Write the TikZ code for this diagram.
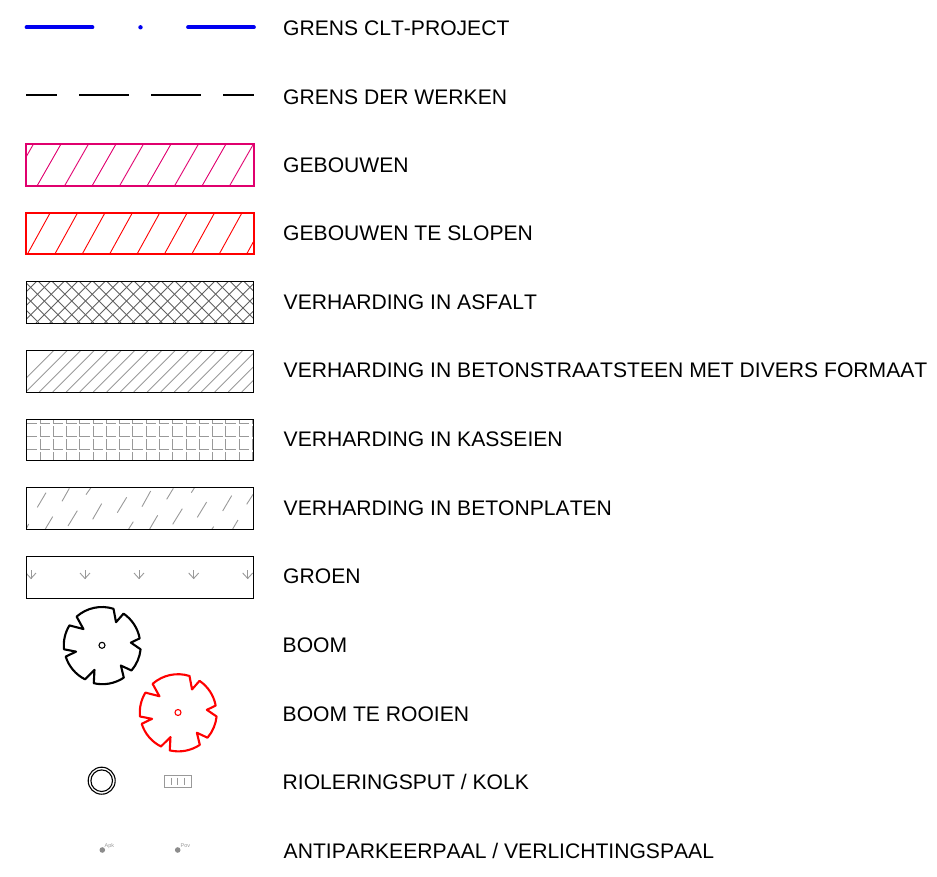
\documentclass[tikz,border=0pt]{standalone}
\usepackage{fontspec}
\setmainfont[Kerning=Off]{Liberation Sans}
\definecolor{pinkb}{HTML}{E0006E}
\definecolor{bluel}{HTML}{0000F0}
\tikzset{
  x=1pt,y=1pt,
  lbl/.style={anchor=base west,inner sep=0pt,font=\fontsize{21.1}{25}\selectfont,text=black},
  bluedash/.style={draw=bluel,line width=3.7pt,line cap=round},
  blackdash/.style={draw=black,line width=1.9pt},
  thickbox/.style={line width=2.3pt},
  thinbox/.style={draw=black,line width=0.9pt},
  hatchline/.style={line width=0.9pt},
  grayline/.style={draw=black!40,line width=0.9pt},
  darkline/.style={draw=black!62,line width=0.9pt},
  treeline/.style={line width=2.1pt,line join=round},
  tiny/.style={inner sep=0pt,anchor=west,font=\fontsize{5.5}{6}\selectfont,text=black!40}
}
\newcommand{\mytree}[3]{%
  \begin{scope}[shift={(#1,#2)}]
  \draw[treeline,#3] (131.5:38.3) arc[start angle=131.5,end angle=72.5,radius=38.3]
   -- (58.7:27) -- (55.8:38.3) arc[start angle=55.8,end angle=10.4,radius=38.3]
   -- (5.3:29) -- (-5.9:38.8) arc[start angle=-5.9,end angle=-40.5,radius=38.8]
   -- (-47:27.7) -- (-56:39) arc[start angle=-56,end angle=-103,radius=38.3]
   -- (-107:25.7) -- (-116.6:38) arc[start angle=-116.6,end angle=-162.7,radius=38]
   -- (-166.3:26.7) -- (-174:38.2) arc[start angle=-174,end angle=-211.6,radius=38]
   -- (138.8:24.7) -- cycle;
  \draw[line width=1.1pt,#3] (0,0) circle[radius=3];
  \end{scope}
}
\begin{document}
\begin{tikzpicture}
\useasboundingbox (0,0) rectangle (937,-877);
% line samples
\draw[bluedash] (26.5,-27.3) -- (92.5,-27.3);
\fill[bluel] (140.5,-27.3) circle[radius=2.2];
\draw[bluedash] (188,-27.3) -- (254,-27.3);
\draw[blackdash] (26,-95.3) -- (57,-95.3);
\draw[blackdash] (79,-95.3) -- (129,-95.3);
\draw[blackdash] (151,-95.3) -- (201,-95.3);
\draw[blackdash] (223,-95.3) -- (254,-95.3);
% gebouwen
\begin{scope}
\clip (26,-144.3) rectangle (253.7,-186);
\foreach \i in {0,...,9} \draw[pinkb,hatchline] ({9.5+27.5*\i},-186) -- ({33.5+27.5*\i},-144);
\end{scope}
\draw[pinkb,thickbox] (26,-144.3) rectangle (253.7,-186);
% te slopen
\begin{scope}
\clip (26,-213.3) rectangle (253.7,-254.3);
\foreach \i in {0,...,9} \draw[red,hatchline] ({27.3+27.4*\i},-254.3) -- ({49.9+27.4*\i},-213.3);
\end{scope}
\draw[red,thickbox] (26,-213.3) rectangle (253.7,-254.3);
% asfalt
\begin{scope}
\clip (26.5,-281.5) rectangle (253.5,-323);
\foreach \i in {0,...,22} {
  \draw[darkline] ({-5+13.7*\i},-323) -- ({36.5+13.7*\i},-281.5);
  \draw[darkline] ({-30+13.7*\i},-281.5) -- ({11.5+13.7*\i},-323);
}
\end{scope}
\draw[thinbox] (26.5,-281.5) rectangle (253.5,-323);
% beton
\begin{scope}
\clip (26.5,-350) rectangle (253.5,-392);
\foreach \i in {-2,...,16} \draw[grayline] ({39.3+13.5*\i},-392) -- ({81.3+13.5*\i},-350);
\end{scope}
\draw[thinbox] (26.5,-350) rectangle (253.5,-392);
% kasseien
\begin{scope}
\clip (26.5,-419) rectangle (253.5,-460);
\foreach \i in {-1,...,16} \foreach \j in {0,...,3} {
  \draw[grayline] ({40+13.27*\i},{-423.3-13*\j+10}) -- ({40+13.27*\i},{-423.3-13*\j}) -- ({50+13.27*\i},{-423.3-13*\j});
}
\end{scope}
\draw[thinbox] (26.5,-419) rectangle (253.5,-460);
% betonplaten
\begin{scope}
\clip (26.5,-487.7) rectangle (253.5,-529);
\foreach \xa/\ya/\xb/\yb in {112/322/138/278,186/304/208/265,258/284/272/264,352/338/380/292,426/320/452/273,500/298/520/265,574/278/583/264,668/333/695/287,740/313/760/282,278/358/305/311,204/378/232/332,136/387/158/350,80/384/86/372,592/352/620/306,518/373/547/326,449/387/473/346,386/387/400/365,698/387/714/360,636/387/641/380}
  \draw[grayline] ({\xa/3},{-400-\ya/3}) -- ({\xb/3},{-400-\yb/3});
\end{scope}
\draw[thinbox] (26.5,-487.7) rectangle (253.5,-529);
% groen
\begin{scope}
\clip (26.5,-556) rectangle (253.5,-598);
\foreach \x in {31,85,139,193.7,247.7} {
  \draw[grayline] (\x,-570) -- (\x,-578.5);
  \draw[grayline] (\x-5,-573) -- (\x,-578.5) -- (\x+5,-573);
}
\end{scope}
\draw[thinbox] (26.5,-556) rectangle (253.5,-598);
% bomen
\mytree{102}{-645.3}{black}
\mytree{178}{-712.5}{red}
% put / kolk
\draw[line width=1.1pt] (101.7,-780.7) circle[radius=13.5];
\draw[line width=1.1pt] (101.7,-780.7) circle[radius=10.8];
\draw[black!40,line width=0.9pt] (164.3,-775) rectangle (191.3,-787.3);
\foreach \x in {171,177.7,184.3} \draw[black!40,line width=0.9pt] (\x,-777.5) -- (\x,-785);
% palen
\fill[black!45] (102.3,-850) circle[radius=2.8];
\node[tiny] (apk) at (104.5,-846) {Apk};
\fill[black!45] (177.7,-850) circle[radius=2.8];
\node[tiny] (pov) at (180.5,-846) {Pov};
% labels
\node[lbl] (l1) at (283,-35.3) {GRENS CLT-PROJECT};
\node[lbl] (l2) at (283,-104.3) {GRENS DER WERKEN};
\node[lbl] (l3) at (283,-172.3) {GEBOUWEN};
\node[lbl] (l4) at (283,-240.3) {GEBOUWEN TE SLOPEN};
\node[lbl] (l5) at (283.5,-309.3) {VERHARDING IN ASFALT};
\node[lbl] (l6) at (283.5,-377.3) {VERHARDING IN BETONSTRAATSTEEN MET DIVERS FORMAAT};
\node[lbl] (l7) at (283.5,-446.3) {VERHARDING IN KASSEIEN};
\node[lbl] (l8) at (283.5,-515.3) {VERHARDING IN BETONPLATEN};
\node[lbl] (l9) at (283,-583.3) {GROEN};
\node[lbl] (l10) at (282.5,-652.3) {BOOM};
\node[lbl] (l11) at (282.5,-721.3) {BOOM TE ROOIEN};
\node[lbl] (l12) at (282.5,-789.3) {RIOLERINGSPUT / KOLK};
\node[lbl] (l13) at (283.5,-858.3) {ANTIPARKEERPAAL / VERLICHTINGSPAAL};
\end{tikzpicture}
\end{document}
